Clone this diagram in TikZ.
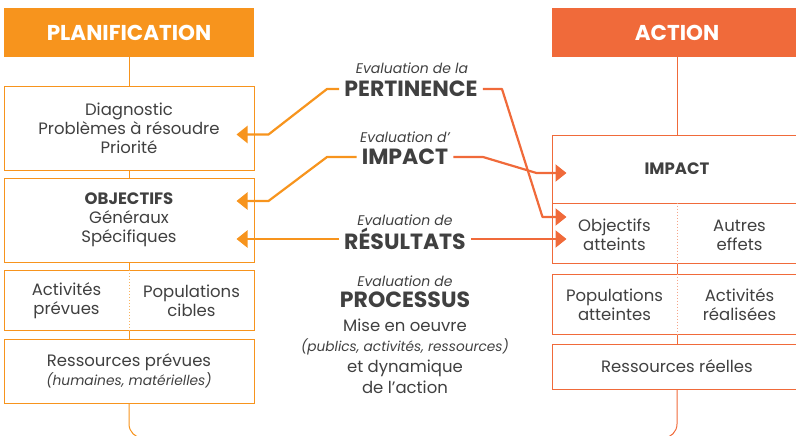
\documentclass[tikz,border=0pt]{standalone}
\usepackage{fontspec}
\setmainfont{Poppins}
\usetikzlibrary{arrows.meta}
\usetikzlibrary{calc}
\usetikzlibrary{positioning}
\definecolor{plan}{HTML}{F7941D}
\definecolor{act}{HTML}{F06A3A}
\definecolor{txt}{HTML}{404040}
\begin{document}
\begin{tikzpicture}[x=1pt,y=-1pt,
  every node/.style={align=center,text=txt,inner sep=0pt,font=\fontsize{16.5}{18.8}\selectfont},
  head/.style={minimum width=250,minimum height=49,text=white,font=\fontsize{21.5}{24}\selectfont\bfseries},
  box/.style={draw,line width=1,minimum width=250},
  stem/.style={line width=1},
  split/.style={line width=1,dotted},
  eval/.style={font=\fontsize{14}{16}\selectfont\itshape},
  big/.style={inner xsep=5pt,font=\fontsize{22}{24}\selectfont\bfseries},
  link/.style={line width=2.2,line join=round,-{Triangle[length=11pt,width=17pt]}}]
  \useasboundingbox (0,0) rectangle (796,436);
  \clip (0,0) rectangle (796,436);
  \node[head,fill=plan] (planif) at (129,32.5) {PLANIFICATION};
  \node[head,fill=act] (action) at (677,32.5) {ACTION};
  \node[box,draw=plan,minimum height=83] (diag) at (129,128.5) {Diagnostic\\Problèmes à résoudre\\Priorité};
  \node[box,draw=plan,minimum height=84] (obj) at (129,220) {\textbf{OBJECTIFS}\\Généraux\\Spécifiques};
  \node[box,draw=plan,minimum height=60] (prev) at (129,300) {};
  \node (activ) at (66.5,301) {Activités\\prévues};
  \node (popc) at (191.5,301) {Populations\\cibles};
  \node[box,draw=plan,minimum height=64] (resp) at (129,371) {Ressources prévues\\{\fontsize{13.8}{20}\selectfont\itshape(humaines, matérielles)}};
  \coordinate (endL) at (220,438);
  \draw[stem,plan] (planif) -- (diag) (diag) -- (obj) (obj) -- (prev) (prev) -- (resp);
  \draw[split,plan!70] (prev.north) -- (prev.south);
  \draw[stem,plan,rounded corners=14] (resp.south) -- (resp.south |- endL) -- (endL);
  \node[box,draw=act,minimum height=68] (impb) at (677,169) {\bfseries IMPACT};
  \node[box,draw=act,minimum height=60] (effets) at (677,233) {};
  \node (objat) at (614.5,235) {Objectifs\\atteints};
  \node (autres) at (739.5,235) {Autres\\effets};
  \node[box,draw=act,minimum height=60] (reel) at (677,304) {};
  \node (popa) at (614.5,305) {Populations\\atteintes};
  \node (actr) at (739.5,305) {Activités\\réalisées};
  \node[box,draw=act,minimum height=45] (resr) at (677,366.5) {Ressources réelles};
  \coordinate (endR) at (580,438);
  \draw[stem,act] (action) -- (impb) (effets) -- (reel) (reel) -- (resr);
  \draw[split,act!60] (effets.north) -- (effets.south) (reel.north) -- (reel.south);
  \draw[stem,act,rounded corners=14] (resr.south) -- (resr.south |- endR) -- (endR);
  \node[eval] (evpert) at (412,68) {Evaluation de la};
  \node[big] (pert) at (411,89) {PERTINENCE};
  \node[eval] (evimp) at (405,137) {Evaluation d'};
  \node[big] (imp) at (405,157) {IMPACT};
  \node[eval] (evres) at (405,220) {Evaluation de};
  \node[big] (res) at (405,239) {RÉSULTATS};
  \node[eval] (evproc) at (405,281) {Evaluation de};
  \node[big] (proc) at (405,300) {PROCESSUS};
  \node[font=\fontsize{16.5}{20.6}\selectfont] (mise) at (405,356) {Mise en oeuvre\\{\fontsize{13.7}{20.6}\selectfont\itshape(publics, activités, ressources)}\\et dynamique\\de l'action};
  \draw[link,plan] (pert.west) -- (pert.west -| 327,0) -- ($(diag.east)+(14,6)$) -- ($(diag.east)+(-18,6)$);
  \draw[link,plan] (imp.west) -- (imp.west -| 327,0) -- ($(obj.east)+(14,-19)$) -- ($(obj.east)+(-18,-19)$);
  \draw[link,plan] (res.west) -- ($(obj.east)+(-18,19)$);
  \draw[link,act] (pert.east) -- (pert.east -| 502,0) -- ($(effets.west)+(-9,-16)$) -- ($(effets.west)+(15,-16)$);
  \draw[link,act] (imp.east) -- (imp.east -| 483,0) -- ($(impb.west)+(-15,4)$) -- ($(impb.west)+(15,4)$);
  \draw[link,act] (res.east) -- ($(effets.west)+(15,6)$);
\end{tikzpicture}
\end{document}
